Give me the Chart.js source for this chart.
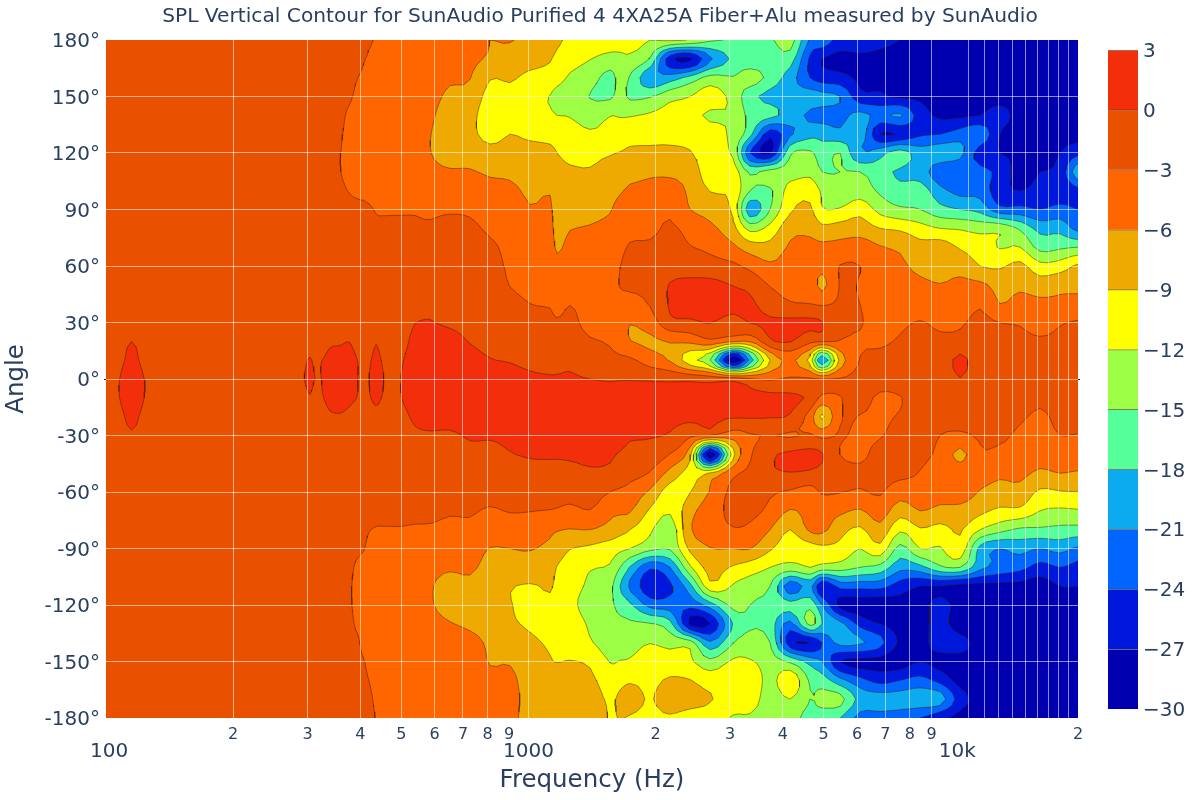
<!DOCTYPE html>
<html>
<head>
<meta charset="utf-8">
<title>SPL Vertical Contour</title>
<script src="https://cdn.jsdelivr.net/npm/chart.js@4"></script>
<style>
body{margin:0;background:#fff}
canvas{position:absolute;top:0}
#contour{left:0}
#colorbar{left:1100px}
</style>
</head>
<body>
<canvas id="contour" width="1200" height="800"></canvas>
<canvas id="colorbar" width="100" height="800"></canvas>
<script>
// frecuencias de cada columna (Hz)
const freqs=[100,107,115,124,134,283,294,304,314,323,339,358,378,395,408,419,436,455,476,499,539,585,652,727,811,904,1009,1125,1169,1254,1399,1560,1648,1740,1940,2164,2414,2692,3052,3346,3733,4163,4642,4956,5467,6095,6800,7581,8454,9428,10515,11726,13076,14581,16261,18133,20000]
// angulos de cada fila, de arriba a abajo
const angles=[180,170,160,150,140,130,120,110,100,90,80,70,60,50,40,30,20,10,0,-10,-20,-30,-40,-50,-60,-70,-80,-90,-100,-110,-120,-130,-140,-150,-160,-170,-180]
// SPL (dB), una lista por frecuencia, de 180 a -180 grados
const splByFreq=[
[-2,-2,-2,-2,-2,-2,-2,-2,-2,-2,-2,-2,-2,-2,-2,-2,-2,-2,-2,-2,-2,-2,-2,-2,-2,-2,-2,-2,-2,-2,-2,-2,-2,-2,-2,-2,-2],
[-2,-2,-2,-2,-2,-2,-2,-2,-2,-2,-2,-2,-2,-2,-2,-2,-1,-.6,-.1,-.1,-.6,-1,-2,-2,-2,-2,-2,-2,-2,-2,-2,-2,-2,-2,-2,-2,-2],
[-2,-2,-2,-2,-2,-2,-2,-2,-2,-2,-2,-2,-2,-2,-2,-1,0,.4,.6,.6,.4,-.2,-1,-2,-2,-2,-2,-2,-2,-2,-2,-2,-2,-2,-2,-2,-2],
[-2,-2,-2,-2,-2,-2,-2,-2,-2,-2,-2,-2,-2,-2,-2,-2,-1,-.6,-.1,-.1,-.6,-1,-2,-2,-2,-2,-2,-2,-2,-2,-2,-2,-2,-2,-2,-2,-2],
[-2,-2,-2,-2,-2,-2,-2,-2,-2,-2,-2,-2,-2,-2,-2,-2,-2,-2,-2,-2,-2,-2,-2,-2,-2,-2,-2,-2,-2,-2,-2,-2,-2,-2,-2,-2,-2],
[-2,-2,-2,-2,-2,-2,-2,-2,-2,-2,-2,-2,-2,-2,-2,-2,-2,-1.5,-1.2,-1.5,-2,-2,-2,-2,-2,-2,-2,-2,-2,-2,-2,-2,-2,-2,-2,-2,-2],
[-2,-2,-2,-2,-2,-2,-2,-2,-2,-2,-2,-2,-2,-2,-2,-2,-1.4,-.5,-.05,-.7,-1.4,-2,-2,-2,-2,-2,-2,-2,-2,-2,-2,-2,-2,-2,-2,-2,-2],
[-2,-2,-2,-2,-2,-2,-2,-2,-2,-2,-2,-2,-2,-2,-2,-2,-1,.15,.3,-.1,-1,-2,-2,-2,-2,-2,-2,-2,-2,-2,-2,-2,-2,-2,-2,-2,-2],
[-2,-2,-2,-2,-2,-2,-2,-2,-2,-2,-2,-2,-2,-2,-2,-2,-1.2,-.5,-.05,-.7,-1.4,-2,-2,-2,-2,-2,-2,-2,-2,-2,-2,-2,-2,-2,-2,-2,-2],
[-2,-2,-2,-2,-2,-2,-2,-2,-2,-2,-2,-2,-2,-2,-2,-1.8,-1,-.05,-.02,-.2,-1,-1.8,-2,-2,-2,-2,-2,-2,-2,-2,-2,-2,-2,-2,-2,-2,-2],
[-2,-2,-2,-2,-2,-2,-2,-2,-2,-2,-2,-2,-2,-2,-2,-1.5,-.3,.4,.6,.5,-.3,-1.5,-2,-2,-2,-2,-2,-2,-2,-2,-2,-2,-2,-2,-2,-2,-2],
[-2,-2.1,-2.2,-2.4,-2.6,-2.8,-2.95,-2.95,-2.6,-2.2,-2,-2,-2,-2,-2,-1.5,-.2,.5,.7,.7,-.2,-1.5,-2,-2,-2,-2,-2,-2,-2,-2,-2.2,-2.4,-2.4,-2.3,-2.1,-2,-2,-2,-2],
[-2.1,-2.3,-2.5,-2.8,-3.3,-3.4,-3.4,-3.4,-3.1,-2.5,-2,-2,-2,-2,-2,-1.5,-.05,.5,.6,.3,-.5,-1.6,-2,-2,-2,-2,-2.1,-2.3,-2.6,-2.8,-2.8,-2.6,-2.4,-2.2,-2.1,-2.1,-2],
[-2.3,-2.5,-3,-3.4,-3.6,-3.6,-3.6,-3.5,-3.2,-2.7,-2,-2,-2,-2,-2,-1.8,-1,-.05,-.02,-.1,-1,-1.8,-2,-2,-2,-2,-2.2,-2.6,-3.4,-3.6,-3.6,-3.4,-2.7,-2.4,-2.3,-2.2,-2.2],
[-2.5,-2.9,-3.3,-3.7,-3.9,-4,-4,-3.8,-3.3,-2.7,-2,-2,-2,-2,-2,-1.7,-1.5,-1.3,-1.2,-1.3,-1.5,-1.8,-2,-2,-2,-2.1,-2.3,-2.9,-3.8,-4,-4,-4,-3.8,-2.9,-2.7,-2.6,-2.5],
[-2.8,-3.2,-3.6,-3.9,-4,-4.1,-4.1,-3.9,-3.5,-2.8,-2.4,-2.1,-2,-2,-1.9,-1.5,-1,-.3,-.03,-.2,-1,-1.5,-1.8,-2,-2.1,-2.4,-2.9,-3.6,-4,-4.2,-4.2,-4.2,-4,-3.5,-3,-2.7,-2.6],
[-3.2,-3.7,-3.9,-4.1,-4.2,-4.3,-4.3,-4.1,-3.6,-3.1,-2.7,-2.1,-2,-2,-1.9,-1,-.1,.4,.5,.3,-.5,-1.3,-1.8,-2,-2.2,-2.5,-3.1,-3.6,-4,-4.1,-4.1,-4.1,-4,-3.8,-3.6,-3.3,-3.1],
[-4.2,-4.3,-4.3,-4.4,-4.4,-4.5,-4.5,-4.3,-3.8,-3.2,-2.6,-2.1,-2,-2,-1.9,-1.5,-1,-.3,-.03,-.2,-1,-1.5,-1.8,-2,-2.2,-2.6,-3.1,-3.8,-4.1,-4.2,-4.2,-4.2,-4.1,-4,-3.9,-3.8,-3.7],
[-4.3,-4.4,-4.4,-4.5,-4.5,-4.6,-4.6,-4.4,-3.9,-3.2,-2.6,-2.1,-2,-2,-1.9,-1.6,-1.3,-1,-.8,-.9,-1.2,-1.6,-1.8,-2,-2.2,-2.6,-3.1,-3.9,-4.2,-4.3,-4.3,-4.3,-4.2,-4.1,-4.1,-4,-4],
[-4.4,-4.5,-4.6,-4.6,-4.7,-4.8,-4.8,-4.6,-4,-3.2,-2.6,-2.1,-2,-2,-1.8,-1.3,-.7,-.2,-.02,-.05,-.7,-1.3,-1.6,-1.8,-2,-2.6,-3.1,-4,-4.4,-4.5,-4.5,-4.5,-4.4,-4.3,-4.3,-4.2,-4.2],
[-4.6,-4.8,-4.9,-5,-5.1,-5.3,-5.3,-5,-4.3,-3.2,-2.7,-2.1,-2,-2,-1.5,-.05,.5,.8,1,1,.4,-.4,-1,-1.4,-1.8,-2.6,-3.2,-4.3,-4.8,-5,-5,-5,-4.9,-4.8,-4.7,-4.6,-4.5],
[-4.8,-5,-5.2,-5.4,-5.7,-5.95,-5.95,-5.5,-4.5,-3.4,-2.7,-2.1,-2,-1.9,-.6,.1,.7,1,1.2,1.2,.6,-.2,-1,-1.4,-1.9,-2.5,-3.3,-4.5,-5.4,-5.8,-5.8,-5.5,-5.3,-5.1,-5,-4.9,-4.8],
[-4.5,-5,-5.7,-6.4,-7,-7,-6.8,-5.8,-4.8,-3.3,-2.3,-2.2,-2,-2,-1.7,-.4,.8,1.3,1.5,1.5,.8,-.3,-1,-1.5,-2,-2.8,-3.5,-4.5,-5.7,-6.8,-6.7,-5.9,-5.2,-5,-4.8,-4.7,-4.6],
[-5,-5.4,-5.9,-7,-8,-8.2,-7,-5.8,-4.4,-3.4,-2.5,-2,-1.8,-1.6,-1.4,-.8,-.1,.7,1.5,1.6,1,.2,-.5,-1.3,-2,-2.8,-3.4,-4.5,-5.6,-6.5,-7,-6.4,-5.3,-5,-4.8,-4.7,-4.6],
[-6,-6.4,-8.8,-10,-10.7,-10,-8,-6.4,-5.1,-4.2,-3.4,-2.6,-2.3,-2,-1.8,-1,-.5,.1,1.5,1.6,1,.2,-.6,-1.5,-2.3,-3.2,-4,-6.1,-6.8,-7.4,-7.8,-7.2,-6.4,-6.1,-5.6,-5.1,-5],
[-5.8,-7.5,-8.7,-9.7,-10,-9,-7.8,-6.7,-5.2,-4.5,-4,-3.6,-3.3,-3.05,-2.4,-1.7,-1,-.2,1.3,1.7,1.2,.4,-.1,-1.2,-2,-2.9,-4,-6,-7,-8.8,-8.9,-8.6,-7.5,-6.2,-5.5,-5.4,-5.6],
[-7,-8,-9.6,-10.5,-11,-9.6,-8,-7.8,-6.6,-5.8,-5,-4.6,-4,-3.5,-3,-2.3,-1.6,-.8,.6,1.6,1.4,.6,.2,-.8,-1.7,-2.95,-4,-5.8,-7.4,-9.2,-9.4,-9.3,-8.5,-7.5,-7,-6.6,-6.5],
[-8,-8.8,-10,-12.1,-11.5,-9.8,-8.4,-7.8,-6.2,-5.6,-5.3,-4.9,-4.5,-3.7,-3.15,-2.5,-2,-1,.3,1.5,1.4,.8,.2,-.6,-1.6,-3.1,-5.3,-6.7,-8,-8.8,-9.3,-9.7,-9.3,-8.7,-7,-6.6,-6.5],
[-8.6,-9.6,-11,-12.9,-12,-10,-9,-8.2,-7.6,-7.2,-6.8,-6.3,-5.3,-4.2,-3.6,-2.8,-2,-.9,.3,1.4,1.4,.9,.2,-.6,-1.6,-3.3,-5.8,-7.6,-9.1,-9.6,-10,-10.2,-9.8,-9.1,-7.2,-6.7,-6.6],
[-9.5,-10.8,-12.4,-13.5,-12.2,-10.5,-9.7,-8.6,-7.8,-7.1,-6.1,-5.3,-4.5,-4,-3.05,-2.6,-2,-.5,.3,1.3,1.5,1,.3,-.6,-1.7,-3.8,-6.1,-8.9,-10.4,-11.2,-11.5,-11,-10.3,-8.9,-7.5,-6.9,-6.8],
[-10,-11.9,-13.7,-15.1,-13.5,-11.5,-9.7,-8.8,-7.8,-6.9,-5.8,-5,-4.4,-4,-3.6,-3.5,-2.8,-1.6,0,1.3,1.6,1.2,.5,-.3,-1.5,-3.1,-6,-9.6,-11.8,-12.4,-12.8,-12.3,-11.7,-9.5,-8.3,-7.5,-7.3],
[-10.5,-13,-16,-15.5,-12.1,-11,-9.2,-8,-7,-6.2,-5.3,-4.8,-4.3,-3.9,-3.6,-3.4,-3.2,-2.2,-.2,1,1.5,1.3,.3,-.5,-3,-5.2,-7,-10.5,-12.3,-14,-14.3,-14,-13.4,-12.1,-10.5,-9.4,-9.2],
[-10.8,-12.7,-14,-14,-12.2,-10.5,-8.9,-7.5,-6.3,-5,-4.4,-3.6,-3.05,-2.9,-3.7,-4.5,-4.2,-2.4,-.1,.9,1.4,.9,-.2,-1.2,-3.5,-5.5,-8,-11.3,-15,-18,-16,-14.3,-13.2,-11.9,-9.8,-8.5,-8.9],
[-11,-12.6,-15.3,-15.5,-12.2,-10,-8.5,-7,-5.5,-4.2,-3.6,-2.8,-2.3,-2.7,-3.7,-5.9,-5.9,-2.5,-.1,.8,1.3,.3,-.7,-2,-4.1,-5.8,-9,-12,-18.3,-21.5,-17.5,-14.5,-13,-11.7,-9.3,-8,-9.2],
[-12,-15.2,-20.5,-15.2,-11.6,-9.7,-8.5,-6.5,-5.2,-4.2,-3.5,-2.7,-2.3,-2.4,-2.8,-4.5,-6.5,-4.5,-.2,.7,1,.2,-1.2,-3.2,-6.5,-9.4,-11.5,-14,-23.5,-26,-22,-14.8,-12.1,-10.5,-9.6,-9.2,-9.5],
[-11.5,-26,-19.5,-13,-10.8,-9.6,-8.5,-6.7,-4.5,-3.4,-2.7,-2.2,-1.5,.2,.3,-.8,-5.8,-6.3,-.4,1,.7,-.3,-3.1,-7,-10.5,-11.6,-13.9,-14.7,-21,-24.5,-22.5,-17,-13,-10.5,-8.7,-7.7,-9.3],
[-12.2,-27.5,-17,-12,-11,-10,-8.8,-7.3,-6.6,-6,-3.8,-2.9,-1.6,.8,1.1,-.5,-5.3,-11,-.5,.9,.7,-2.5,-8,-10,-9.1,-7,-6.3,-8.3,-12.5,-19,-23,-27.5,-13.5,-11.5,-8.9,-8,-10],
[-14.5,-21.5,-14,-10.5,-12.5,-10.5,-11,-10.7,-9.1,-7.3,-5.3,-3.6,-1.9,.8,1.2,.1,-3.6,-15,-.9,.8,.4,-3,-30,-8.7,-5.8,-4.4,-4.6,-6.1,-8,-10,-19.5,-27,-20.5,-14.2,-10.3,-8.8,-10.5],
[-15.2,-17.5,-14.8,-13,-12.3,-12.8,-12.5,-10.5,-9.7,-9.5,-8,-5.4,-2.4,-.1,.8,-1.2,-5.5,-30,-1,1,.3,-4.5,-10,-3.8,-2.2,-2.3,-3.2,-6,-9.3,-12.3,-14,-17.8,-15.1,-11.5,-9.8,-10.2,-12.3],
[-15.5,-17,-13.5,-17,-16,-17,-24,-15.5,-15,-20,-13,-7.5,-3.8,-.9,.5,.1,-5.7,-20,-2.7,.9,.3,-3.3,-3.4,-2.3,-1.8,-2.2,-3.7,-5.9,-10.5,-13.5,-15,-15.3,-14,-11.7,-9.5,-10,-12.5],
[-15.5,-17,-16,-19,-17,-26,-27.5,-13.7,-15.5,-15,-11,-8,-5.5,-3.2,-1.5,.4,-.5,-9,-3.3,.8,.2,-2.9,-.6,-.5,-2.6,-3.7,-6,-8.6,-12,-15,-16,-16.5,-15,-13.5,-13,-14,-14],
[-13.5,-16.5,-19.5,-20,-19.5,-21.5,-15.5,-13.5,-10.7,-9.5,-7,-5.6,-4.7,-3.8,-2.8,.7,.2,-5.5,-2.6,.6,-.3,-3.3,.6,-.1,-3.4,-6.2,-9,-11,-13,-23,-17,-22,-26,-15.5,-9.5,-12,-14],
[-21.5,-24.5,-24,-19.5,-21.5,-19,-14.5,-12.8,-10,-8.5,-6.7,-5.3,-4.6,-3.7,-3,.6,-2.2,-10,-2.6,-.5,-4.2,-2.7,.8,-.4,-4.2,-5,-5.5,-10.5,-12,-20,-16,-14,-27,-19,-15.5,-15,-16],
[-22,-27,-25.5,-20,-22,-19,-16.5,-15,-12.5,-11.8,-8.2,-5.4,-5.2,-6.8,-3.4,.1,-2.6,-21,-3,-3.7,-9.5,-3.7,.2,-1,-2.7,-4.8,-5.3,-9.8,-13,-27,-21,-18,-24,-21,-16.5,-14,-16.5],
[-25,-28,-26,-21,-22,-20,-15,-15,-14.5,-11.7,-7.7,-5,-2.9,-2.8,-2.7,-2.6,-3.1,-8,-2.8,-3.1,-3.2,-2.8,-3.05,-1.7,-2.9,-5.4,-8,-10,-13.5,-23,-28,-20,-20,-27,-20,-14,-18],
[-24,-28,-27.5,-26,-20,-19,-21,-15,-13.5,-10,-7.5,-4.5,-3,-3.2,-3,-2.8,-3.3,-2.9,-2.2,-2.2,-3.1,-3.5,-3.6,-2.4,-3.3,-6.3,-9.5,-12,-15,-23,-28.5,-25,-20.5,-28,-23,-19,-22],
[-26,-28,-27.5,-26.5,-22,-27,-19,-17,-15.5,-13,-9,-5.8,-4.8,-4.5,-4.3,-4,-3.3,-2.5,-2,-3.4,-3.4,-3.2,-2,-2,-2.7,-4.5,-7,-10,-16,-23,-29,-27,-23,-28,-25,-19.5,-22],
[-27,-28,-27.5,-27.5,-20.5,-26.5,-16.5,-18.5,-17,-14.5,-9.5,-6.5,-5.5,-5,-4.3,-3.4,-2.8,-2.3,-2,-3.1,-2.8,-2,-2,-2.3,-4.7,-7.7,-11.5,-16,-20,-25.5,-28,-28,-27.5,-28.5,-24,-19.5,-22.5],
[-27,-28.5,-28,-27.5,-25.5,-24.5,-19.5,-19.5,-16.5,-15,-10.8,-8,-6.7,-5.4,-4,-2.9,-2.3,-2,-2,-2,-2,-2,-2.5,-3.1,-3.8,-6,-9.3,-12,-19,-27,-28,-28,-28,-27,-23,-19,-24],
[-27.5,-28,-28,-27.5,-27.5,-24,-19,-23,-20,-17,-12,-7.5,-7,-5.9,-4,-3.4,-2.6,-2.3,-2.1,-2,-2.3,-3,-3.6,-3.9,-4.7,-6.8,-10,-12.3,-15.5,-27,-26,-26,-25.5,-28,-25,-19.5,-26],
[-28,-28,-28,-27,-27.5,-22.5,-20,-24,-22,-18,-12.3,-9.3,-7,-5.4,-4.6,-3.3,-2.3,.8,-.1,-1.5,-2.2,-3.4,-6.8,-4.3,-4.3,-7,-8.7,-10,-15,-28,-28,-28.5,-26,-28,-28,-25.5,-28],
[-28,-28,-28,-27.5,-27,-21.5,-25.5,-23,-22,-19,-13,-10.5,-9,-5.4,-3.4,-2.3,-2,-2,-2,-2,-2,-2.7,-3.4,-4.7,-6.2,-8.3,-12,-19,-20,-28,-28.5,-28.5,-28,-28,-28,-28,-28],
[-28,-28.5,-28,-28,-26,-27,-27,-25,-26,-23,-12.8,-12.2,-9.4,-7,-6,-3,-2.4,-2.2,-2,-2,-2,-2.6,-3.6,-5.5,-7,-9.6,-14,-21,-22,-28,-28.5,-28,-29,-28,-28.5,-28,-28.5],
[-28,-28.5,-28,-28,-28,-28,-27.5,-28,-27,-23,-15.5,-12,-8.2,-6.6,-5,-3.2,-2.5,-2.1,-2,-2,-2.7,-3.4,-4,-5.3,-7,-9.7,-15.5,-20,-23,-28,-28.5,-28,-28,-28,-28,-28,-28],
[-28,-28.5,-28.5,-28,-28,-28.5,-28.5,-27,-26,-24,-19,-16,-11,-7.5,-5.4,-4,-2.7,-2.1,-2,-2.6,-3.3,-3.8,-4.8,-6.5,-9.5,-12,-15.5,-21,-25,-28.5,-28,-28,-28,-28.5,-28,-28,-28],
[-28,-28.5,-28.5,-28,-28,-28,-27,-26,-26,-23,-19,-15.5,-10.5,-6.8,-5.4,-3.2,-2.6,-2.2,-2,-2,-2.5,-3,-4,-6,-9.2,-12.5,-15.8,-20,-24,-27,-28,-28,-28,-28,-28,-28,-28],
[-28,-28,-28,-28,-28,-28,-25,-19,-25,-24,-22,-15,-8.5,-7,-4.8,-2.8,-2.2,-2,-2,-2,-2.1,-3.1,-4.2,-6.3,-9,-12.3,-16,-21.5,-25,-27,-28,-28,-28,-28,-28,-28,-28]
]
// niveles de contorno y color de cada banda (la banda i va de levels[i] a levels[i+1])
const levels=[-30,-27,-24,-21,-18,-15,-12,-9,-6,-3,0,3]
const bandColors=['#0000b0','#0018dc','#0066ff','#0caaee','#55ff99','#9cff45','#ffff00','#eeaa00','#ff6600','#e95000','#f32e0a']
// ticks
const freqTicks=[100,200,300,400,500,600,700,800,900,1000,2000,3000,4000,5000,6000,7000,8000,9000,10000,11000,12000,13000,14000,15000,16000,17000,18000,19000,20000]
const freqTickLabels=[['',' 100'],'2','3','4','5','6','7','8','9',['','1000'],'2','3','4','5','6','7','8','9',['','  10k'],'','','','','','','','','','2']
const noGridFreqs=[100,900,10000,20000]
const angleTicks=[-180,-150,-120,-90,-60,-30,0,30,60,90,120,150,180]

const textColor='#2a3f5f'
const fontFamily='"DejaVu Sans", sans-serif'
const subdivisions=3

Chart.defaults.font.family=fontFamily
Chart.defaults.color=textColor

// suaviza la rejilla solo para trazar curvas, los datos son los de arriba
const catmull=(p0,p1,p2,p3,t)=>.5*(2*p1+(p2-p0)*t+(2*p0-5*p1+4*p2-p3)*t*t+(3*p1-p0-3*p2+p3)*t*t*t)
const refine=list=>{
    const out=[]
    for(let i=0;i<list.length-1;i++){
        const p0=list[Math.max(i-1,0)],p1=list[i],p2=list[i+1],p3=list[Math.min(i+2,list.length-1)]
        for(let s=0;s<subdivisions;s++) out.push(catmull(p0,p1,p2,p3,s/subdivisions))
    }
    out.push(list[list.length-1])
    return out
}
const lerpList=list=>{
    const out=[]
    for(let i=0;i<list.length-1;i++){
        for(let s=0;s<subdivisions;s++) out.push(list[i]+(list[i+1]-list[i])*s/subdivisions)
    }
    out.push(list[list.length-1])
    return out
}
const fineLogFreqs=lerpList(freqs.map(f=>Math.log10(f)))
const fineAngles=lerpList(angles)
const tallColumns=splByFreq.map(refine)
const fineZ=fineAngles.map((a,r)=>refine(tallColumns.map(col=>col[r])))

// corta una celda por un nivel: poligono con z>=level y puntos donde cruza
const cutCell=(corners,level)=>{
    const poly=[],cross=[]
    corners.forEach((a,i)=>{
        const b=corners[(i+1)%4]
        if(a.z>=level) poly.push(a)
        if((a.z>=level)!==(b.z>=level)){
            const t=(level-a.z)/(b.z-a.z)
            const p={lx:a.lx+t*(b.lx-a.lx),y:a.y+t*(b.y-a.y)}
            poly.push(p)
            cross.push(p)
        }
    })
    return {poly,cross}
}

const polysByLevel=levels.map(()=>[])
const contourPoints=[]

for(let c=0;c<fineLogFreqs.length-1;c++){
    for(let r=0;r<fineAngles.length-1;r++){
        const corners=[
            {lx:fineLogFreqs[c],y:fineAngles[r],z:fineZ[r][c]},
            {lx:fineLogFreqs[c+1],y:fineAngles[r],z:fineZ[r][c+1]},
            {lx:fineLogFreqs[c+1],y:fineAngles[r+1],z:fineZ[r+1][c+1]},
            {lx:fineLogFreqs[c],y:fineAngles[r+1],z:fineZ[r+1][c]}
        ]
        levels.forEach((level,i)=>{
            const {poly,cross}=cutCell(corners,level)
            if(poly.length>2) polysByLevel[i].push(poly)
            for(let k=0;k+1<cross.length;k+=2){
                contourPoints.push({x:10**cross[k].lx,y:cross[k].y},{x:10**cross[k+1].lx,y:cross[k+1].y},{x:NaN,y:NaN})
            }
        })
    }
}

// rellena las bandas debajo de las lineas de contorno
const bandFillPlugin={
    id:'bandFill',
    beforeDatasetsDraw(chart){
        const {ctx,chartArea,scales}=chart
        ctx.save()
        ctx.beginPath()
        ctx.rect(chartArea.left,chartArea.top,chartArea.width,chartArea.height)
        ctx.clip()
        ctx.fillStyle=bandColors[0]
        ctx.fillRect(chartArea.left,chartArea.top,chartArea.width,chartArea.height)
        polysByLevel.forEach((polys,i)=>{
            if(i===0||i>=bandColors.length) return
            ctx.fillStyle=bandColors[i]
            ctx.beginPath()
            polys.forEach(poly=>{
                poly.forEach((p,k)=>{
                    const x=scales.x.getPixelForValue(10**p.lx)
                    const y=scales.y.getPixelForValue(p.y)
                    if(k===0) ctx.moveTo(x,y)
                    else ctx.lineTo(x,y)
                })
                ctx.closePath()
            })
            ctx.fill()
        })
        ctx.restore()
    }
}

new Chart('contour',{
    type:'scatter',
    data:{
        datasets:[{
            label:'SPL',
            data:contourPoints,
            showLine:true,
            spanGaps:false,
            borderColor:'rgba(50,25,0,0.65)',
            borderWidth:0.7,
            pointRadius:0,
            tension:0
        }]
    },
    options:{
        responsive:false,
        animation:false,
        plugins:{
            legend:{display:false},
            tooltip:{enabled:false},
            title:{
                display:true,
                text:'SPL Vertical Contour for SunAudio Purified 4 4XA25A Fiber+Alu measured by SunAudio',
                color:textColor,
                font:{size:20.2,weight:'normal'},
                padding:{top:5,bottom:10.76}
            }
        },
        scales:{
            x:{
                type:'logarithmic',
                min:100,
                max:20000,
                afterBuildTicks:axis=>{axis.ticks=freqTicks.map(value=>({value}))},
                afterFit:axis=>{axis.height=82},
                border:{display:false},
                grid:{
                    z:1,
                    drawTicks:false,
                    color:ctx=>noGridFreqs.includes(ctx.tick.value)?'rgba(0,0,0,0)':'rgba(255,255,255,0.55)'
                },
                ticks:{
                    autoSkip:false,
                    maxRotation:0,
                    padding:7,
                    color:textColor,
                    font:ctx=>[100,1000,10000].includes(ctx.tick.value)?{size:20,lineHeight:0.9}:{size:16},
                    callback:(value,i)=>freqTickLabels[i]
                },
                title:{display:true,text:'Frequency (Hz)',color:textColor,font:{size:24.5},padding:{top:0,bottom:5}}
            },
            y:{
                min:-180,
                max:180,
                afterBuildTicks:axis=>{axis.ticks=angleTicks.map(value=>({value}))},
                afterFit:axis=>{axis.width=106},
                border:{display:false},
                grid:{
                    z:1,
                    tickLength:2,
                    tickColor:ctx=>ctx.tick.value===0?'#222':'rgba(0,0,0,0)',
                    color:ctx=>Math.abs(ctx.tick.value)===180?'rgba(0,0,0,0)':'rgba(255,255,255,0.55)'
                },
                ticks:{
                    padding:4,
                    labelOffset:2,
                    color:textColor,
                    font:{size:20},
                    callback:value=>value+'°'
                },
                title:{display:true,text:'Angle',color:textColor,font:{size:24.5},padding:{top:2,bottom:0}}
            },
            // eje vacio para dejar sitio a la barra de color y centrar el titulo
            rightGap:{
                position:'right',
                min:-180,
                max:180,
                afterBuildTicks:axis=>{axis.ticks=[{value:0}]},
                afterFit:axis=>{axis.width=122},
                border:{display:false},
                grid:{drawOnChartArea:false,tickLength:2,tickColor:'#222'},
                ticks:{display:false}
            }
        }
    },
    plugins:[bandFillPlugin]
})

// barra de color: una barra flotante por banda
new Chart('colorbar',{
    type:'bar',
    data:{
        labels:['SPL'],
        datasets:bandColors.map((color,i)=>({
            label:levels[i]+' to '+levels[i+1],
            data:[[levels[i],levels[i+1]]],
            backgroundColor:color,
            borderColor:'rgba(50,25,0,0.55)',
            borderWidth:{top:1,bottom:0,left:0,right:0},
            borderSkipped:false,
            grouped:false,
            barPercentage:1,
            categoryPercentage:1
        }))
    },
    options:{
        responsive:false,
        animation:false,
        layout:{padding:{left:8,top:50,bottom:91,right:0}},
        plugins:{legend:{display:false},tooltip:{enabled:false}},
        scales:{
            x:{display:false},
            y:{
                position:'right',
                min:-30,
                max:3,
                afterBuildTicks:axis=>{axis.ticks=levels.map(value=>({value}))},
                afterFit:axis=>{axis.width=62},
                border:{display:false},
                grid:{display:false,drawTicks:false},
                ticks:{
                    padding:5,
                    labelOffset:2,
                    color:textColor,
                    font:{size:20},
                    callback:value=>String(value).replace('-','\u2212')
                }
            }
        }
    }
})
</script>
</body>
</html>
